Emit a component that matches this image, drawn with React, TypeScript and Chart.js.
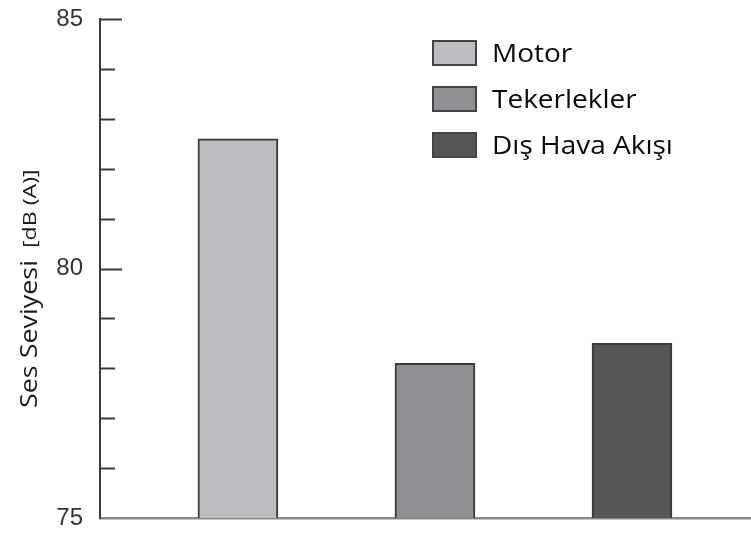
import React, { useEffect, useRef } from "react";
import { Chart, registerables } from "chart.js";

Chart.register(...registerables);

// Noise sources and their measured sound level, dB(A)
const sources = ["Motor", "Tekerlekler", "Dış Hava Akışı"];
const soundLevels = [82.6, 78.1, 78.5];
const sourcePositions = [1, 2, 3];

// Value axis
const yMin = 75;
const yMax = 85;
const yStep = 1;
const yLabelledTicks = [75, 80, 85];

const barFills = ["#bcbdc0", "#8f9094", "#545557"];
const barEdge = "#3a3a3a";

// Inward tick marks, rotated two-size axis title and a boxed legend
const decorations = {
  id: "decorations",
  afterDraw(chart: any) {
    const { ctx, chartArea } = chart;
    const y = chart.scales.y;

    ctx.save();
    ctx.strokeStyle = "#3a3a3a";
    ctx.lineWidth = 2;
    for (const t of y.ticks) {
      if (t.value === yMin) continue;
      const py = Math.round(y.getPixelForValue(t.value)) + 0.5;
      const major = yLabelledTicks.includes(t.value);
      ctx.beginPath();
      ctx.moveTo(chartArea.left, py);
      ctx.lineTo(chartArea.left + (major ? 22 : 15), py);
      ctx.stroke();
    }
    ctx.restore();

    // axis title
    ctx.save();
    ctx.fillStyle = "#1a1a1a";
    ctx.textBaseline = "alphabetic";
    ctx.translate(37, 408);
    ctx.rotate(-Math.PI / 2);
    ctx.save();
    ctx.scale(1.17, 1);
    ctx.font = '500 23px "Open Sans"';
    ctx.fillText("Ses Seviyesi", 0, 0);
    ctx.restore();
    ctx.translate(160, 0);
    ctx.scale(1.22, 1);
    ctx.font = '500 19px "Open Sans"';
    ctx.fillText("[dB (A)]", 0, -1);
    ctx.restore();

    // legend
    ctx.save();
    chart.data.datasets.forEach((ds: any, i: number) => {
      const top = 40 + i * 46;
      ctx.fillStyle = ds.backgroundColor;
      ctx.fillRect(432, top, 45, 26);
      ctx.strokeStyle = "#444";
      ctx.lineWidth = 2;
      ctx.strokeRect(433, top + 1, 43, 24);
      ctx.save();
      ctx.translate(492, top + 22);
      ctx.scale(1.12, 1);
      ctx.fillStyle = "#0a0a0a";
      ctx.font = '500 25px "Open Sans"';
      ctx.textBaseline = "alphabetic";
      ctx.fillText(ds.label, 0, 0);
      ctx.restore();
    });
    ctx.restore();
  },
};

export default function App() {
  const canvasRef = useRef<HTMLCanvasElement | null>(null);

  useEffect(() => {
    if (!canvasRef.current) return;
    const chart = new Chart(canvasRef.current, {
      type: "bar",
      data: {
        datasets: sources.map((name, i) => ({
          label: name,
          data: [{ x: sourcePositions[i], y: soundLevels[i] }],
          backgroundColor: barFills[i],
          borderColor: barEdge,
          borderWidth: 2,
          borderSkipped: false,
          barThickness: 80,
          grouped: false,
        })),
      },
      options: {
        responsive: false,
        animation: false,
        events: [],
        layout: { padding: { top: 19, bottom: 21, left: 0, right: 0 } },
        plugins: {
          legend: { display: false },
          tooltip: { enabled: false },
        },
        scales: {
          x: {
            type: "linear",
            offset: false,
            min: 0.3,
            max: 3.604,
            grid: { display: false, drawTicks: false },
            ticks: { display: false },
            border: { display: true, color: "#8a8a8a", width: 2.5 },
          },
          y: {
            min: yMin,
            max: yMax,
            grid: { display: false, drawTicks: false },
            border: { display: true, color: "#3a3a3a", width: 2 },
            ticks: {
              stepSize: yStep,
              padding: 17,
              color: "#333",
              font: { family: '"Liberation Sans", Arial, sans-serif', size: 24 },
              callback: (v: any) => (yLabelledTicks.includes(Number(v)) ? String(v) : ""),
            },
            afterFit: (scale: any) => {
              scale.width = 100;
              scale.paddingTop = 0;
              scale.paddingBottom = 0;
            },
          },
        },
      },
      plugins: [decorations],
    });
    return () => chart.destroy();
  }, []);

  return (
    <div style={{ position: "absolute", left: 0, top: 0, width: 751, height: 539, background: "#fff" }}>
      <canvas ref={canvasRef} width={751} height={539} />
    </div>
  );
}
